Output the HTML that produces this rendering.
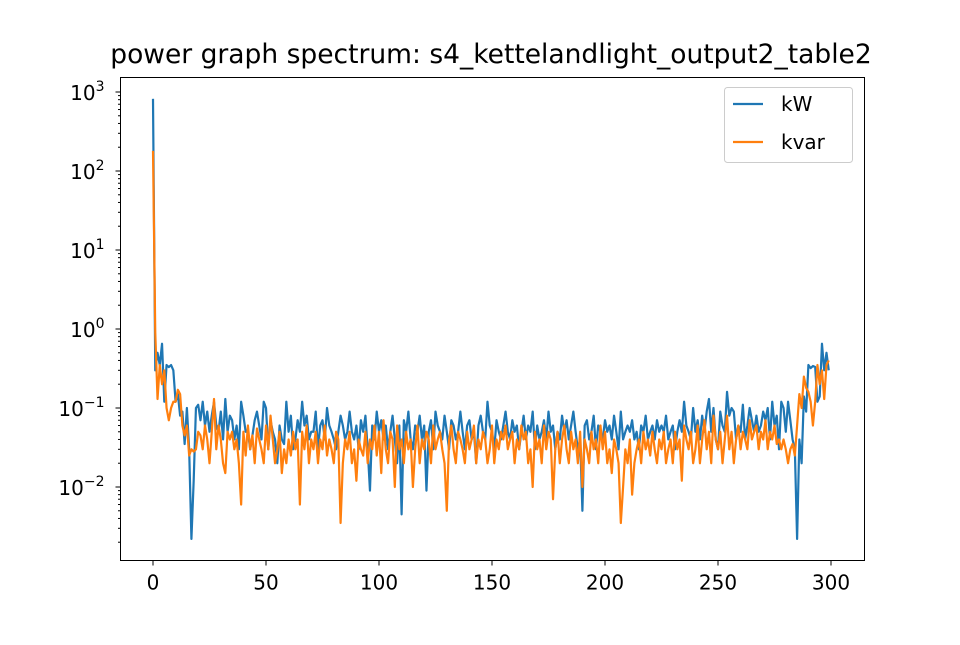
<!DOCTYPE html>
<html><head><meta charset="utf-8"><style>
body{margin:0;background:#fff;}
svg text{font-family:"DejaVu Sans","Liberation Sans",sans-serif;fill:#000;}
</style></head><body>
<svg id="chart" width="960" height="640" viewBox="0 0 960 640" xmlns="http://www.w3.org/2000/svg">
<rect width="960" height="640" fill="#fff"/>
<text x="491" y="63" text-anchor="middle" font-size="26.5">power graph spectrum: s4_kettelandlight_output2_table2</text>
<g id="plot"></g>
<rect x="120.5" y="77.5" width="744" height="483" fill="none" stroke="#000" stroke-width="1"/>
<g>
<rect x="724.5" y="87.5" width="128" height="75" rx="3" fill="#fff" fill-opacity="0.8" stroke="#ccc"/>
<line x1="733" y1="104" x2="763" y2="104" stroke="#1f77b4" stroke-width="2.2"/>
<text x="781" y="111" font-size="20">kW</text>
<line x1="733" y1="142" x2="763" y2="142" stroke="#ff7f0e" stroke-width="2.2"/>
<text x="781" y="149" font-size="20">kvar</text>
</g>
</svg>
<script>
const xTicks=[0,50,100,150,200,250,300];
const yTickExps=[-2,-1,0,1,2,3];
const kW=[820,0.3,0.5,0.35,0.65,0.12,0.35,0.33,0.35,0.3,0.12,0.15,0.08,0.09,0.035,0.1,0.03,0.0022,0.012,0.1,
0.11,0.07,0.12,0.06,0.09,0.05,0.08,0.12,0.06,0.05,0.09,0.04,0.13,0.05,0.08,0.07,0.04,0.06,0.03,0.12,
0.08,0.05,0.05,0.03,0.045,0.07,0.09,0.06,0.04,0.12,0.1,0.03,0.07,0.05,0.04,0.02,0.06,0.04,0.035,0.12,
0.05,0.08,0.03,0.04,0.07,0.05,0.12,0.06,0.08,0.04,0.05,0.05,0.09,0.03,0.06,0.07,0.04,0.1,0.06,0.05,
0.04,0.03,0.05,0.08,0.06,0.04,0.05,0.09,0.05,0.04,0.06,0.03,0.07,0.05,0.08,0.03,0.009,0.06,0.04,0.09,
0.05,0.07,0.04,0.06,0.03,0.05,0.08,0.04,0.02,0.06,0.0045,0.07,0.05,0.09,0.04,0.03,0.06,0.05,0.08,0.04,
0.06,0.009,0.05,0.07,0.03,0.09,0.06,0.05,0.04,0.08,0.05,0.03,0.07,0.06,0.04,0.05,0.09,0.05,0.03,0.06,
0.07,0.04,0.05,0.02,0.06,0.08,0.05,0.04,0.12,0.06,0.05,0.03,0.07,0.05,0.04,0.06,0.09,0.05,0.04,0.07,
0.05,0.06,0.03,0.05,0.08,0.04,0.06,0.05,0.09,0.03,0.06,0.04,0.05,0.07,0.04,0.09,0.05,0.06,0.03,0.05,
0.04,0.08,0.05,0.07,0.04,0.06,0.09,0.05,0.03,0.04,0.005,0.06,0.07,0.04,0.05,0.08,0.03,0.06,0.05,0.04,
0.07,0.05,0.06,0.04,0.08,0.05,0.03,0.09,0.04,0.05,0.06,0.05,0.07,0.04,0.05,0.03,0.06,0.05,0.08,0.04,
0.05,0.06,0.04,0.07,0.05,0.06,0.05,0.08,0.04,0.05,0.06,0.03,0.05,0.07,0.05,0.12,0.06,0.05,0.04,0.1,
0.05,0.07,0.04,0.08,0.05,0.09,0.13,0.05,0.1,0.04,0.03,0.09,0.06,0.05,0.16,0.08,0.1,0.09,0.04,0.06,
0.05,0.11,0.04,0.06,0.1,0.07,0.05,0.08,0.05,0.06,0.09,0.07,0.1,0.04,0.12,0.06,0.08,0.03,0.12,0.1,
0.05,0.12,0.07,0.04,0.03,0.0022,0.04,0.02,0.14,0.09,0.35,0.32,0.34,0.33,0.12,0.14,0.65,0.3,0.5,0.3];
const kvar=[180,0.9,0.13,0.35,0.2,0.3,0.1,0.07,0.1,0.12,0.12,0.17,0.15,0.06,0.045,0.06,0.025,0.03,0.028,0.03,
0.05,0.045,0.03,0.06,0.04,0.02,0.05,0.13,0.03,0.06,0.04,0.02,0.015,0.05,0.04,0.05,0.03,0.04,0.02,0.006,
0.05,0.025,0.06,0.03,0.045,0.02,0.055,0.04,0.03,0.02,0.06,0.03,0.08,0.04,0.02,0.03,0.05,0.015,0.03,0.02,
0.04,0.025,0.05,0.03,0.04,0.006,0.05,0.03,0.06,0.02,0.04,0.03,0.05,0.02,0.04,0.03,0.06,0.025,0.04,0.03,
0.02,0.05,0.04,0.0035,0.02,0.04,0.03,0.05,0.02,0.03,0.012,0.04,0.03,0.025,0.05,0.02,0.04,0.03,0.06,0.025,
0.05,0.015,0.07,0.03,0.02,0.05,0.04,0.01,0.06,0.03,0.04,0.02,0.05,0.03,0.04,0.01,0.03,0.06,0.02,0.04,
0.03,0.05,0.04,0.02,0.06,0.03,0.04,0.05,0.03,0.02,0.005,0.04,0.06,0.03,0.02,0.05,0.04,0.03,0.02,0.05,
0.03,0.04,0.06,0.02,0.04,0.03,0.05,0.04,0.02,0.03,0.06,0.02,0.04,0.03,0.05,0.04,0.06,0.03,0.04,0.05,
0.02,0.04,0.03,0.06,0.04,0.05,0.02,0.03,0.01,0.05,0.03,0.04,0.02,0.06,0.03,0.05,0.04,0.007,0.03,0.05,
0.02,0.04,0.06,0.03,0.02,0.05,0.03,0.04,0.02,0.05,0.01,0.04,0.03,0.02,0.05,0.03,0.04,0.02,0.06,0.03,
0.05,0.02,0.03,0.015,0.04,0.03,0.02,0.0035,0.01,0.03,0.02,0.04,0.008,0.02,0.03,0.04,0.02,0.05,0.03,0.04,
0.025,0.05,0.03,0.02,0.04,0.03,0.05,0.02,0.03,0.04,0.02,0.05,0.03,0.04,0.012,0.06,0.04,0.03,0.05,0.02,
0.03,0.06,0.02,0.04,0.07,0.03,0.05,0.02,0.08,0.04,0.03,0.05,0.02,0.04,0.08,0.03,0.05,0.02,0.04,0.06,
0.03,0.05,0.04,0.03,0.07,0.04,0.05,0.06,0.03,0.05,0.04,0.07,0.03,0.05,0.04,0.06,0.035,0.04,0.03,0.04,
0.03,0.02,0.03,0.035,0.025,0.06,0.15,0.1,0.25,0.18,0.16,0.12,0.06,0.12,0.35,0.2,0.3,0.13,0.35,0.4];
const NS='http://www.w3.org/2000/svg';
const X0=120.5,X1=864.5,Y0=77.5,Y1=560.5;
function xs(v){return 153+v*(831-153)/300;}
function ys(v){return 329-79*Math.log10(v);}
const plot=document.getElementById('plot');
const svg=document.getElementById('chart');
function mk(t,a){const e=document.createElementNS(NS,t);for(const k in a)e.setAttribute(k,a[k]);return e;}
xTicks.forEach(t=>{
  const x=xs(t);
  const l=mk('line',{x1:x,y1:Y1,x2:x,y2:Y1+5,stroke:'#000'});
  
  
  svg.appendChild(l);
  const tx=mk('text',{x:x,y:Y1+29,'text-anchor':'middle','font-size':'20'});
  
  
  tx.textContent=t;svg.appendChild(tx);
});
for(let e=-3;e<=3;e++){
  for(let m=1;m<10;m++){
    const v=m*Math.pow(10,e);const y=ys(v);
    if(y<Y0||y>Y1)continue;
    const l=mk('line',{x1:X0,y1:y,x2:X0-(m==1?5:2.5),y2:y,stroke:'#000'});
    
    
    svg.appendChild(l);
  }
}
yTickExps.forEach(e=>{
  const y=ys(Math.pow(10,e));
  const tx=mk('text',{x:X0-16,y:y+8,'text-anchor':'end','font-size':'20'});
  
  
  tx.innerHTML='10<tspan dy="-9" font-size="14">'+(e<0?'\u2212'+(-e):e)+'</tspan>';
  svg.appendChild(tx);
});
function line(arr,color,name){
  const d=arr.map((v,i)=>(i?'L':'M')+xs(i).toFixed(2)+','+ys(v).toFixed(2)).join('');
  const p=mk('path',{d:d,fill:'none',stroke:color,'stroke-width':'2.2','stroke-linejoin':'round'});
  
  
  plot.appendChild(p);
}
line(kW,'#1f77b4','kw-series-line');
line(kvar,'#ff7f0e','kvar-series-line');
</script>
</body></html>
